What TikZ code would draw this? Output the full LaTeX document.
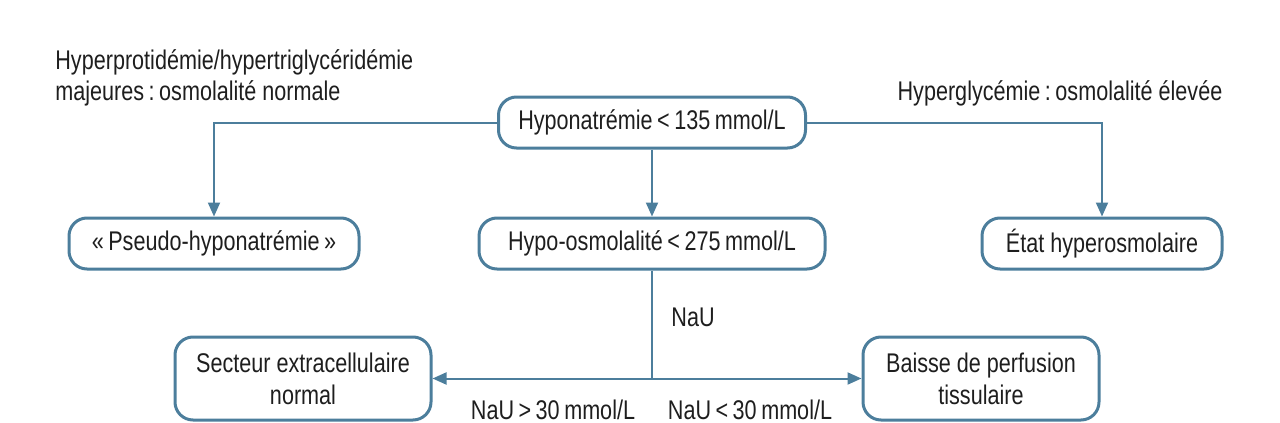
\documentclass[tikz,border=0pt]{standalone}
\usepackage{fontspec}
\setmainfont{Liberation Sans}[FakeStretch=0.8]
\usepackage{tikz}
\usetikzlibrary{positioning, arrows.meta}
\definecolor{boxblue}{RGB}{76,126,156}
\definecolor{txtgray}{RGB}{30,30,30}

\begin{document}
\begin{tikzpicture}[
    x=0.5pt, y=-0.5pt,
    node distance=1.6cm,
    box/.style={draw=boxblue, line width=1.5pt, rounded corners=9pt, minimum height=25.5pt, align=center, font=\fontsize{13.5}{16}\selectfont, text=txtgray, inner sep=0pt},
    lbl/.style={font=\fontsize{13.5}{15.5}\selectfont, text=txtgray, inner sep=0pt},
    arrow/.style={-{Triangle[length=7pt, width=6pt]}, draw=boxblue, line width=1pt}
]
\useasboundingbox (0,0) rectangle (1280,423);

% Top row
\node[box, minimum width=153.5pt] (hna) at (652,122.5) {Hyponatrémie\,<\,135\,mmol/L};

% Second row
\node[box, minimum width=145pt] (pseudo) at (214,243.5) {«\,Pseudo-hyponatrémie\,»};
\node[box, minimum width=173pt] (hypo) at (652,243.5) {Hypo-osmolalité\,<\,275\,mmol/L};
\node[box, minimum width=120pt] (etat) at (1102,243.5) {État hyperosmolaire};

% Bottom row
\node[box, minimum width=128pt, minimum height=41.5pt] (secteur) at (303,378.5) {Secteur extracellulaire\\normal};
\node[box, minimum width=118pt, minimum height=41.5pt] (baisse) at (981,378.5) {Baisse de perfusion\\tissulaire};
\coordinate (split) at (hypo.south |- secteur.east);

% Arrows
\draw[arrow] (hna.west) -| (pseudo.north);
\draw[arrow] (hna.east) -| (etat.north);
\draw[arrow] (hna.south) -- (hypo.north);
\draw[draw=boxblue, line width=1pt] (hypo.south) -- (split);
\draw[arrow] (split) -- (secteur.east);
\draw[arrow] (split) -- (baisse.west);

% Labels
\node[lbl, anchor=west, align=left] (protid) at (55,77.5) {Hyperprotidémie/hypertriglycéridémie\\majeures\,:\,osmolalité normale};
\node[lbl] (glyc) at (1060,93) {Hyperglycémie\,:\,osmolalité élevée};
\node[lbl, anchor=west] (nau) at (671,317) {NaU};
\node[lbl] (nauhi) at (553,410) {NaU\,>\,30\,mmol/L};
\node[lbl] (naulo) at (750,410) {NaU\,<\,30\,mmol/L};

\end{tikzpicture}
\end{document}
